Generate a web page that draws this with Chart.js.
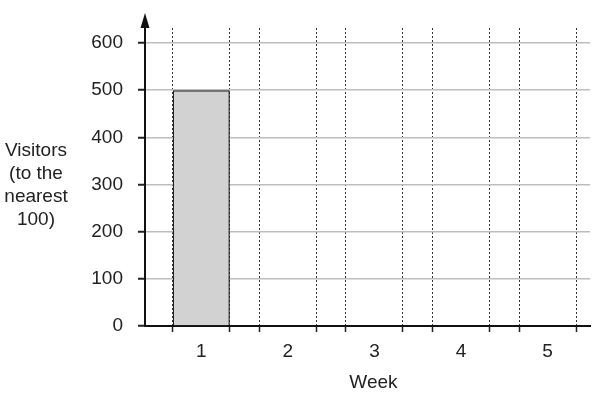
<!DOCTYPE html>
<html>
<head>
<meta charset="utf-8">
<script src="https://cdn.jsdelivr.net/npm/chart.js@4.4.0/dist/chart.umd.min.js"></script>
<style>
  html, body { margin: 0; padding: 0; background: #fff; }
</style>
</head>
<body>
<canvas id="visitorsChart" width="601" height="396"></canvas>
<script>
// data
const weeks = [1, 2, 3, 4, 5];
const visitors = [500, null, null, null, null];
const yTicks = [0, 100, 200, 300, 400, 500, 600];
const yTitleLines = ['Visitors', '(to the', 'nearest', '100)'];
const xTitle = 'Week';

const FONT_FAMILY = "'Liberation Sans', Arial, sans-serif";
const FONT_SIZE = 19;
const TEXT_COLOR = '#222';
const HALF_BAR = 0.33; // half of a bar's width, in weeks
const CLEAR = 'rgba(0,0,0,0)';

function isWeek(v) {
    return weeks.some(w => Math.abs(w - v) < 1e-6);
}

// arrow head on the y axis, the horizontal y title and the week title
const extras = {
    id: 'extras',
    afterDraw(chart) {
        const ctx = chart.ctx;
        const area = chart.chartArea;
        const x = chart.scales.y.right;
        ctx.save();
        ctx.strokeStyle = '#111';
        ctx.lineWidth = 2;
        ctx.beginPath();
        ctx.moveTo(x, area.top);
        ctx.lineTo(x, area.top - 8);
        ctx.stroke();
        ctx.fillStyle = '#111';
        ctx.beginPath();
        ctx.moveTo(x, area.top - 15);
        ctx.lineTo(x - 4.5, area.top);
        ctx.lineTo(x + 4.5, area.top);
        ctx.closePath();
        ctx.fill();

        ctx.fillStyle = TEXT_COLOR;
        ctx.font = FONT_SIZE + 'px ' + FONT_FAMILY;
        ctx.textAlign = 'center';
        ctx.textBaseline = 'alphabetic';
        yTitleLines.forEach((line, i) => {
            ctx.fillText(line, 36, 156 + i * 23);
        });

        // week title sits under the middle week
        const mid = weeks[Math.floor(weeks.length / 2)];
        ctx.fillText(xTitle, chart.scales.x.getPixelForValue(mid) - 1, 388);
        ctx.restore();
    }
};

const ctx = document.getElementById('visitorsChart').getContext('2d');

new Chart(ctx, {
    type: 'bar',
    data: {
        datasets: [{
            label: 'Visitors',
            data: weeks.map((w, i) => ({ x: w, y: visitors[i] })),
            backgroundColor: '#d2d2d2',
            borderColor: '#222',
            borderWidth: 1.5,
            // the smallest tick gap is HALF_BAR, a bar spans two of them
            barPercentage: 2,
            categoryPercentage: 1
        }]
    },
    options: {
        responsive: false,
        animation: false,
        layout: {
            padding: { top: 28, right: 11, left: 0, bottom: 0 }
        },
        plugins: {
            legend: { display: false },
            tooltip: { enabled: false }
        },
        scales: {
            x: {
                type: 'linear',
                offset: false,
                min: 0.35,
                max: 5.49,
                afterBuildTicks: scale => {
                    const ticks = [];
                    weeks.forEach(w => {
                        ticks.push({ value: w - HALF_BAR }, { value: w }, { value: w + HALF_BAR });
                    });
                    scale.ticks = ticks;
                },
                afterFit: scale => { scale.height = 70; },
                grid: {
                    offset: false,
                    color: c => (c.tick && !isWeek(c.tick.value)) ? '#333' : CLEAR,
                    lineWidth: 1,
                    tickLength: 6,
                    tickWidth: 1.5,
                    tickBorderDash: [],
                    tickColor: c => (c.tick && !isWeek(c.tick.value)) ? '#222' : CLEAR
                },
                // in v4 the grid line dash comes from border.dash
                border: { color: '#111', width: 2, dash: [2, 2] },
                ticks: {
                    autoSkip: false,
                    maxRotation: 0,
                    padding: 8,
                    color: TEXT_COLOR,
                    font: { family: FONT_FAMILY, size: FONT_SIZE },
                    callback: v => isWeek(v) ? String(Math.round(v)) : ''
                }
            },
            y: {
                min: 0,
                max: 632,
                afterBuildTicks: scale => {
                    scale.ticks = yTicks.map(v => ({ value: v }));
                },
                afterFit: scale => { scale.width = 145; },
                grid: {
                    color: c => (c.tick && c.tick.value === 0) ? CLEAR : '#bdbdbd',
                    lineWidth: 1.5,
                    tickLength: 7,
                    tickWidth: 2,
                    tickColor: '#222'
                },
                border: { color: '#111', width: 2 },
                ticks: {
                    padding: 15,
                    color: TEXT_COLOR,
                    font: { family: FONT_FAMILY, size: FONT_SIZE }
                }
            }
        }
    },
    plugins: [extras]
});
</script>
</body>
</html>
